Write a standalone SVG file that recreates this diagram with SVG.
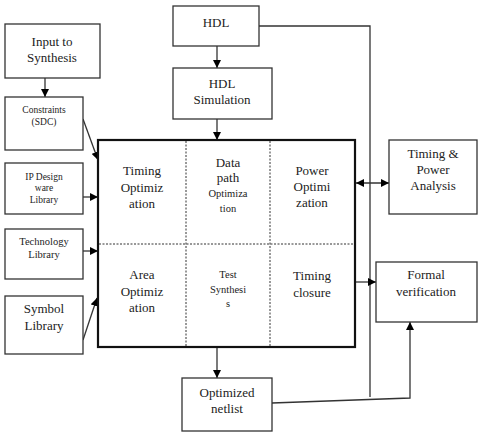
<svg xmlns="http://www.w3.org/2000/svg" width="480" height="435" viewBox="0 0 480 435">
<defs>
<marker id="ah" viewBox="0 0 10 10" refX="10" refY="5" markerWidth="8" markerHeight="8" markerUnits="userSpaceOnUse" orient="auto-start-reverse"><path d="M0,0 L10,5 L0,10 Z" fill="#000"/></marker>
</defs>
<rect width="480" height="435" fill="#fff"/>
<g id="connectors" stroke="#333" stroke-width="1.3" fill="none">
<path marker-end="url(#ah)" d="M45,78 V97"/>
<path marker-end="url(#ah)" d="M217,46 V68"/>
<path marker-end="url(#ah)" d="M217,119 V140"/>
<path marker-end="url(#ah)" d="M83,119 L98,160"/>
<path marker-end="url(#ah)" d="M83,197 H98"/>
<path marker-end="url(#ah)" d="M83,251 H98"/>
<path marker-end="url(#ah)" d="M83,340 L97,298"/>
<path marker-end="url(#ah)" d="M217,347 V378"/>
<path d="M259,26 H370 V397"/>
<path marker-start="url(#ah)" marker-end="url(#ah)" d="M356,183 H389"/>
<path marker-end="url(#ah)" d="M355,282 H376"/>
<path marker-end="url(#ah)" d="M272,403 L410,398 V322"/>
</g>
<g id="nodes" font-family="Liberation Serif" font-size="13" text-anchor="middle">
<g id="input"><rect fill="#fff" stroke="#333" stroke-width="1.3" x="5" y="24" width="95" height="54"/><text fill="#222" x="52" y="46">Input to</text><text fill="#222" x="52" y="62">Synthesis</text></g>
<g id="constraints"><rect fill="#fff" stroke="#333" stroke-width="1.3" x="5" y="97" width="78" height="53"/><text fill="#222" font-size="9.5" x="44" y="113">Constraints</text><text fill="#222" font-size="9.5" x="44" y="125">(SDC)</text></g>
<g id="ip"><rect fill="#fff" stroke="#333" stroke-width="1.3" x="5" y="163" width="78" height="51"/><text fill="#222" font-size="9.5" x="44" y="180">IP Design</text><text fill="#222" font-size="9.5" x="44" y="191">ware</text><text fill="#222" font-size="9.5" x="44" y="203">Library</text></g>
<g id="tech"><rect fill="#fff" stroke="#333" stroke-width="1.3" x="5" y="229" width="78" height="50"/><text fill="#222" font-size="10.5" x="44" y="245">Technology</text><text fill="#222" font-size="10.5" x="44" y="258">Library</text></g>
<g id="symbol"><rect fill="#fff" stroke="#333" stroke-width="1.3" x="5" y="296" width="78" height="58"/><text fill="#222" x="44" y="313">Symbol</text><text fill="#222" x="44" y="330">Library</text></g>
<g id="hdl"><rect fill="#fff" stroke="#333" stroke-width="1.3" x="173" y="6" width="86" height="40"/><text fill="#222" x="216" y="27">HDL</text></g>
<g id="hdlsim"><rect fill="#fff" stroke="#333" stroke-width="1.3" x="173" y="68" width="99" height="51"/><text fill="#222" x="222" y="88">HDL</text><text fill="#222" x="222" y="104">Simulation</text></g>
<g id="main">
<rect fill="#fff" stroke="#111" stroke-width="2.2" x="98" y="140" width="257" height="207"/>
<path fill="none" stroke="#333" stroke-width="1" stroke-dasharray="2,1.5" d="M186,141 V346 M270,141 V346 M99,244 H354"/>
<text fill="#222" x="142" y="175">Timing</text><text fill="#222" x="142" y="192">Optimiz</text><text fill="#222" x="142" y="208">ation</text>
<text fill="#222" x="228" y="167">Data</text><text fill="#222" x="228" y="182">path</text><text fill="#222" font-size="10.5" x="228" y="197">Optimiza</text><text fill="#222" font-size="10.5" x="228" y="212">tion</text>
<text fill="#222" x="312" y="175">Power</text><text fill="#222" x="312" y="191">Optimi</text><text fill="#222" x="312" y="207">zation</text>
<text fill="#222" x="142" y="279">Area</text><text fill="#222" x="142" y="296">Optimiz</text><text fill="#222" x="142" y="312">ation</text>
<text fill="#222" font-size="10.5" x="228" y="278">Test</text><text fill="#222" font-size="10.5" x="228" y="293">Synthesi</text><text fill="#222" font-size="10.5" x="228" y="307">s</text>
<text fill="#222" x="312" y="280">Timing</text><text fill="#222" x="312" y="297">closure</text>
</g>
<g id="tpa"><rect fill="#fff" stroke="#333" stroke-width="1.3" x="389" y="140" width="88" height="74"/><text fill="#222" x="433" y="158">Timing &amp;</text><text fill="#222" x="433" y="174">Power</text><text fill="#222" x="433" y="190">Analysis</text></g>
<g id="formal"><rect fill="#fff" stroke="#333" stroke-width="1.3" x="376" y="262" width="101" height="60"/><text fill="#222" x="426" y="279">Formal</text><text fill="#222" x="426" y="296">verification</text></g>
<g id="netlist"><rect fill="#fff" stroke="#333" stroke-width="1.3" x="182" y="378" width="90" height="53"/><text fill="#222" x="227" y="397">Optimized</text><text fill="#222" x="227" y="413">netlist</text></g>
</g>
</svg>
